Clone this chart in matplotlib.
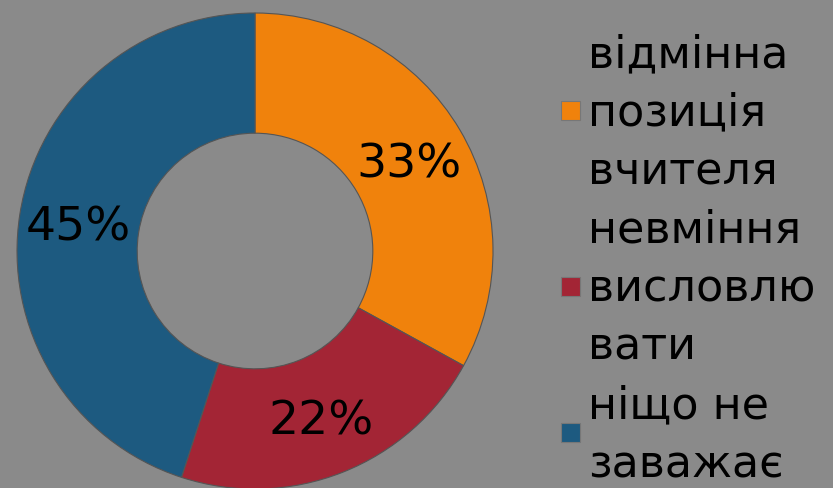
import matplotlib
matplotlib.use("Agg")
import matplotlib.pyplot as plt
from matplotlib.patches import Rectangle

categories = ["відмінна\nпозиція\nвчителя", "невміння\nвисловлю\nвати", "ніщо не\nзаважає"]
values = [33, 22, 45]
colors = ["#F0820C", "#A32535", "#1D5A80"]
bg = "#8A8A8A"

plt.rcParams['font.family'] = ['DejaVu Sans']

W, H = 833, 488
fig = plt.figure(figsize=(W / 100, H / 100), dpi=100, facecolor=bg)
cx, cy, R = 255, 251, 238
ax = fig.add_axes([(cx - R) / W, (H - cy - R) / H, 2 * R / W, 2 * R / H])
ax.set_facecolor(bg)
wedges, texts, autotexts = ax.pie(
    values, colors=colors, startangle=90, counterclock=False,
    radius=1, autopct=lambda p: f"{p:.0f}%", pctdistance=0.75,
    wedgeprops=dict(width=0.505, edgecolor="#555555", linewidth=0.8),
    textprops=dict(fontsize=34, color="black"))
for t in autotexts:
    x, y = t.get_position()
    t.set_position((x, y - 5 / R))
ax.set_xlim(-1, 1)
ax.set_ylim(-1, 1)
ax.set_aspect("equal")
ax.axis("off")

# legend drawn manually (pixel layout from top of image)
text_x = 588
first_baseline = 67
pitch = 58.6
sq = 19
sq_x = 561
line_idx = 0
for cat, col in zip(categories, colors):
    lines = cat.split("\n")
    centers = []
    for ln in lines:
        base = first_baseline + line_idx * pitch
        fig.text(text_x / W, 1 - base / H, ln, fontsize=32, color="black",
                 ha="left", va="baseline")
        centers.append(base - 11)
        line_idx += 1
    mid = sum(centers) / len(centers) - 4
    fig.patches.append(Rectangle((sq_x / W, 1 - (mid + sq / 2) / H), sq / W, sq / H,
                                 transform=fig.transFigure, facecolor=col,
                                 edgecolor="#777777", linewidth=0.8))

fig.savefig("out.png", dpi=100, facecolor=bg)
